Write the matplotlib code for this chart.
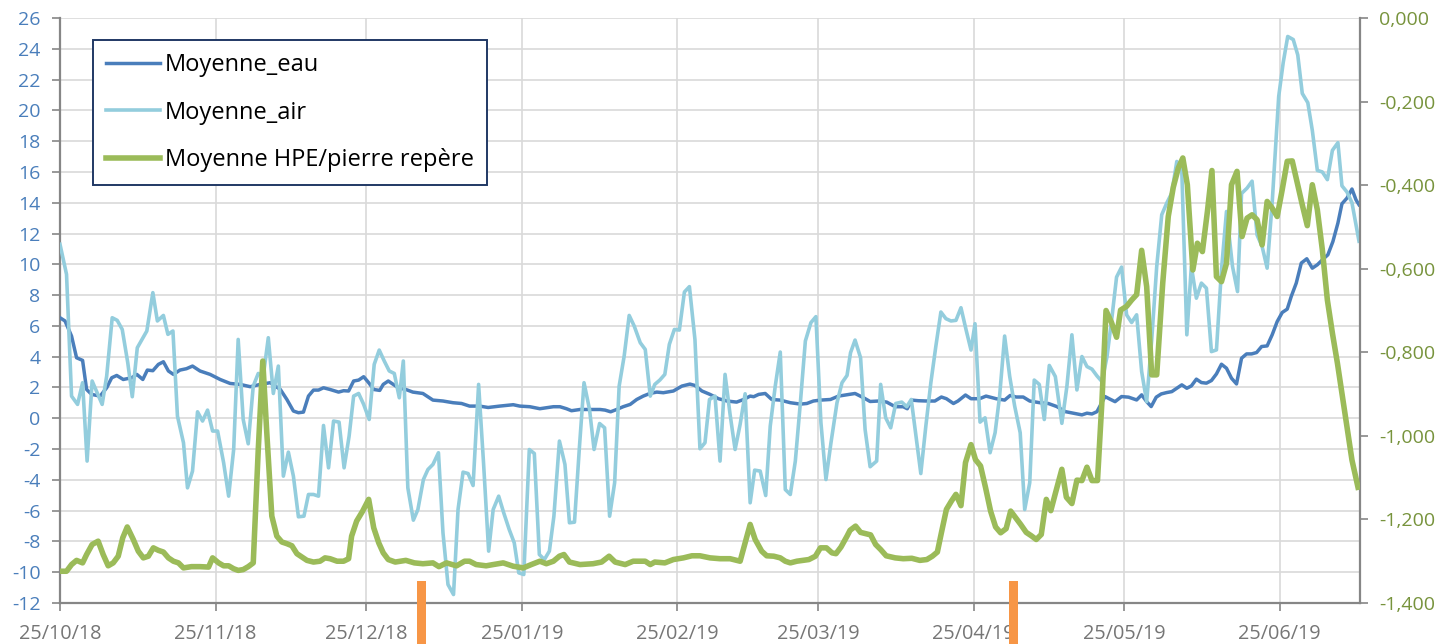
import matplotlib

matplotlib.use("Agg")
import matplotlib.dates as mdates
import matplotlib.pyplot as plt
import matplotlib.ticker as mticker
import numpy as np
import pandas as pd

plt.rcParams["font.family"] = ["Open Sans", "DejaVu Sans"]
plt.rcParams["axes.unicode_minus"] = False

START = pd.Timestamp("2018-10-25")
END = START + pd.Timedelta(days=259)

# ── Data (day offsets from 25/10/18) ─────────────────────────────────────────

eau_days = [
    0, 1, 2.3, 3.3, 4.5, 5.3, 6.3, 8, 9.3, 10.3,
    11.3, 12.6, 14.3, 15.3, 16.5, 17.4, 18.5, 19.6, 20.6, 21.6,
    22.6, 23.9, 25.2, 26.4, 27.9, 29.9, 31.9, 33.9, 35.9, 37.9,
    39.9, 41.9, 43.9, 45.2, 46.5, 47.5, 48.5, 49.5, 50.5, 51.5,
    52.5, 53.8, 55.5, 56.5, 57.5, 58.5, 59.5, 60.5, 61.5, 62.5,
    63.7, 64.4, 65.4, 66.4, 67.4,
    68.9, 70.3, 72.3, 74.3, 76.3, 78.3, 80.0, 81.6, 83.6, 85.3,
    87.6, 90.3, 91.6, 93.6, 95.6, 96.9, 98.3, 99.6, 100.9, 101.9,
    103.6, 105.6, 107.6, 108.6, 109.7, 110.9, 112.2, 113.6, 114.9, 116.2,
    117.5, 118.9, 120.2, 122.2, 123.9, 125.5, 126.5, 127.9, 129.5, 131.2,
    132.9, 134.8, 136.2, 137.5, 138.2, 139.2, 140.5, 141.8, 143.5, 145.5,
    147.5,
    148.8, 150.1, 151.5, 153.5, 155.1, 156.8, 158.4, 160.1, 161.4, 163.1,
    164.7, 166.4, 168.0, 168.8, 169.7, 171.0, 172.7, 174.3, 175.6, 176.6,
    178.0, 178.9, 180.4, 181.5, 183.2, 184.5, 186.5, 188.2, 189.3, 190.5,
    191.9, 193.2, 195.2, 196.9,
    198.6, 200.3, 201.9, 203.6, 204.6, 205.6, 206.6, 207.2, 208.2, 209.2,
    210.2, 211.5, 212.9, 214.5, 215.5, 216.5, 217.4, 218.4, 219.4, 220.5,
    221.5, 222.5, 223.5, 224.5, 225.4, 226.4, 227.4, 228.4, 229.4, 230.4,
    231.4, 232.4, 233.4, 234.4, 235.4, 236.4, 237.4, 238.4, 239.4, 240.5,
    241.5, 242.5, 243.5, 244.5, 245.3, 246.3, 247.3, 248.4, 249.5, 250.5,
    251.5, 252.6, 253.6, 254.6, 255.4, 256.4, 257.4, 258.2, 258.8,
]
eau_vals = [
    6.53, 6.32, 5.34, 3.93, 3.76, 1.87, 1.55, 1.44, 1.98, 2.63,
    2.78, 2.52, 2.63, 2.85, 2.52, 3.13, 3.09, 3.50, 3.67, 3.07,
    2.85, 3.13, 3.22, 3.39, 3.07, 2.85, 2.52, 2.26, 2.20, 2.05,
    2.20, 2.31, 1.87, 1.22, 0.47, 0.36, 0.40, 1.44, 1.83, 1.83,
    1.98, 1.87, 1.70, 1.79, 1.77, 2.42, 2.48, 2.70, 2.31, 1.87,
    1.81, 2.20, 2.42, 2.20, 1.98,
    1.87, 1.70, 1.61, 1.18, 1.12, 1.01, 0.96, 0.79, 0.79, 0.70,
    0.79, 0.88, 0.79, 0.75, 0.62, 0.68, 0.75, 0.75, 0.62, 0.49,
    0.57, 0.57, 0.57, 0.53, 0.42, 0.57, 0.75, 0.90, 1.22, 1.44,
    1.61, 1.70, 1.66, 1.77, 2.09, 2.22, 2.13, 1.77, 1.55, 1.27,
    1.12, 1.05, 1.22, 1.44, 1.40, 1.55, 1.61, 1.22, 1.18, 1.01,
    0.92,
    0.96, 1.12, 1.18, 1.22, 1.44, 1.53, 1.61, 1.33, 1.09, 1.12,
    1.05, 0.75, 0.75, 0.62, 1.18, 1.14, 1.12, 1.12, 1.38, 1.27,
    0.96, 1.12, 1.51, 1.27, 1.27, 1.44, 1.27, 1.18, 1.48, 1.38,
    1.38, 1.12, 1.01, 0.96,
    0.76, 0.43, 0.33, 0.22, 0.33, 0.28, 0.43, 0.80, 1.41, 1.24,
    1.08, 1.41, 1.37, 1.19, 1.52, 1.08, 0.76, 1.37, 1.58, 1.67,
    1.73, 1.95, 2.17, 1.95, 2.10, 2.54, 2.32, 2.28, 2.45, 2.88,
    3.51, 3.25, 2.60, 2.23, 3.90, 4.18, 4.18, 4.27, 4.66, 4.70,
    5.42, 6.28, 6.87, 7.09, 7.91, 8.78, 10.08, 10.36, 9.75, 9.97,
    10.29, 10.62, 11.48, 12.68, 13.93, 14.30, 14.89, 14.19, 13.87,
]

air_days = [
    0, 1.3, 2.3, 3.5, 4.5, 5.4, 6.4, 7.4, 8.4, 9.3,
    10.4, 11.4, 12.4, 13.5, 14.4, 15.4, 17.3, 18.5, 19.4, 20.6,
    21.5, 22.5, 23.4, 24.6, 25.4, 26.4, 27.4, 28.4, 29.4, 30.4,
    31.4, 32.6, 33.6, 34.6, 35.5, 36.5, 37.5, 38.5, 39.5, 40.5,
    41.5, 42.5, 43.5, 44.5, 45.5, 46.5, 47.5, 48.6, 49.5, 50.5,
    51.5, 52.5, 53.5, 54.5, 55.6, 56.6, 57.6, 58.5, 59.5, 60.5,
    61.6, 62.6, 63.6, 64.6, 65.6, 66.6, 67.6, 68.4, 69.3, 70.4,
    71.3, 72.4, 73.3, 74.3, 75.4, 76.3, 77.3, 78.4, 79.3, 80.3,
    81.3, 82.3, 83.4, 84.4, 85.4, 86.3, 87.4, 88.4, 89.5, 90.5,
    91.4, 92.4, 93.5, 94.5, 95.5, 96.5, 97.5, 98.4, 99.5, 100.6,
    101.5, 102.5, 103.5, 104.4, 105.5, 106.4, 107.5, 108.5, 109.5, 110.5,
    111.4, 112.4, 113.4, 114.4, 115.6, 116.6, 117.6, 118.5, 119.5, 120.5,
    121.4, 122.4, 123.4, 124.4, 125.4, 126.5, 127.5, 128.5, 129.4, 130.5,
    131.5, 132.5, 133.5, 134.5, 135.5, 136.5, 137.5, 138.4, 139.5, 140.6,
    141.5, 142.5, 143.5, 144.5, 145.5, 146.5, 147.5, 148.5, 149.6, 150.6,
    151.6, 152.6, 153.6, 154.8, 155.8, 156.8, 157.5, 158.4, 159.5, 160.4,
    161.4, 162.7, 163.5, 164.5, 165.5, 166.5, 167.7, 168.7, 169.6, 170.5,
    171.5, 172.5, 173.5, 174.5, 175.5, 176.5, 177.5, 178.5, 179.5, 180.5,
    181.5, 182.3, 183.3, 184.3, 185.3, 186.3, 187.2, 188.2, 189.2, 190.2,
    191.3, 192.2, 193.2, 194.1, 195.1, 196.1, 197.1, 198.3, 199.6, 200.6,
    201.6, 202.6, 203.6, 204.6, 205.6, 206.6, 207.6, 208.6, 209.6, 210.5,
    211.5, 212.5, 213.5, 214.5, 215.5, 216.5, 217.5, 218.5, 219.5, 220.5,
    221.5, 222.5, 223.5, 224.5, 225.4, 226.4, 227.4, 228.4, 229.4, 230.4,
    231.4, 232.4, 233.6, 234.6, 235.4, 236.5, 237.5, 238.5, 239.5, 240.5,
    241.5, 242.2, 242.8, 243.7, 244.6, 245.7, 246.6, 247.5, 248.6, 249.5,
    250.5, 251.5, 252.5, 253.5, 254.6, 255.4, 256.4, 257.4, 258.8,
]
air_vals = [
    11.3, 9.35, 1.44, 0.90, 2.31, -2.78, 2.42, 1.66, 0.90, 2.74,
    6.53, 6.36, 5.77, 3.61, 1.40, 4.58, 5.67, 8.16, 6.32, 6.68,
    5.45, 5.67, 0.14, -1.59, -4.52, -3.43, 0.42, -0.18, 0.53, -0.83,
    -0.83, -2.89, -5.06, -2.03, 5.12, -0.08, -1.66, 2.09, 2.91, 2.74,
    5.23, 1.61, 3.39, -3.76, -2.20, -3.76, -6.40, -6.36, -4.95, -4.95,
    -5.06, -0.47, -3.22, -0.18, -0.25, -3.22, -1.16, 1.44, 1.61, 0.90,
    -0.08, 3.50, 4.43, 3.72, 3.07, 2.91, 1.33, 3.72, -4.52, -6.62,
    -5.93, -3.98, -3.33, -3.00, -2.24, -7.44, -10.80, -11.45, -5.93, -3.50,
    -3.59, -4.37, 2.20, -3.00, -8.63, -5.93, -5.06, -6.14, -7.23, -8.09,
    -10.04, -10.15, -2.03, -2.29, -8.85, -9.18, -8.63, -6.36, -1.48, -3.00,
    -6.79, -6.75, -1.81, 2.31, 0.57, -2.03, -0.34, -0.62, -6.36, -4.19,
    2.09, 4.04, 6.68, 5.99, 4.91, 4.47, 1.44, 2.20, 2.48, 2.85,
    4.80, 5.77, 5.73, 8.20, 8.55, 5.12, -1.98, -1.59, 1.22, 1.44,
    -2.78, 2.85, 0.25, -2.03, -0.40, 1.59, -5.49, -3.37, -3.43, -5.02,
    -0.51, 2.09, 4.30, -4.63, -4.95, -2.78, 1.00, 5.02, 6.21, 6.60,
    -0.29, -3.98, -1.59, 1.01, 2.31, 2.78, 4.26, 5.08, 3.93, -0.73,
    -3.15, -2.78, 2.20, 0.03, -0.62, 0.96, 1.05, 0.75, 1.22, -1.05,
    -3.59, -0.51, 2.31, 4.69, 6.90, 6.47, 6.32, 6.36, 7.18, 5.77,
    4.43, 6.14, -0.25, 0.03, -2.24, -0.94, 1.44, 5.34, 2.74, 0.79,
    -0.94, -5.93, -4.19, 2.48, 2.20, -0.08, 3.43, 2.71, -0.33, 2.06,
    5.42, 1.84, 4.01, 3.36, 3.19, 2.75, 2.38, 4.01, 6.61, 9.17,
    9.82, 6.72, 6.22, 6.72, 3.03, 1.08, 5.09, 9.86, 13.22, 13.98,
    14.63, 16.68, 16.03, 5.42, 9.86, 7.80, 8.78, 8.45, 4.33, 4.44,
    9.64, 13.43, 9.86, 8.23, 14.6, 14.95, 15.4, 11.9, 11.16, 9.75,
    13.98, 17.66, 20.9, 23.1, 24.8, 24.6, 23.6, 21.1, 20.5, 18.7,
    16.1, 16.0, 15.5, 17.4, 17.9, 15.1, 14.7, 14.0, 11.5,
]

hpe_days = [
    0, 1.3, 2.3, 3.3, 4.5, 5.3, 6.4, 7.6, 8.6, 9.6,
    10.6, 11.6, 12.5, 13.4, 14.6, 15.6, 16.6, 17.6, 18.6, 19.6,
    20.6, 21.6, 22.6, 23.6, 24.6, 26.2, 27.9, 29.6, 30.4, 31.6,
    32.6, 33.6, 34.6, 35.5, 36.5, 37.5, 38.5, 39.5, 40.4, 41.2,
    42.2, 43.2, 44.2, 45.2, 46.2, 47.2, 48.2, 49.2, 50.5, 51.8,
    52.8, 53.8, 55.2, 56.5, 57.5, 58.1, 59.1, 60.3, 61.5, 62.5,
    63.5, 64.4, 65.4, 66.8, 68.9, 70.6, 72.3, 74.3, 75.5, 77.0,
    79.0, 80.6, 81.6, 82.9, 84.9, 86.3, 88.3, 90.3, 92.3, 93.9,
    95.6, 96.9, 98.3, 99.5, 100.4, 101.5, 103.6, 106.2, 107.9, 109.4,
    110.6, 112.6, 114.2, 116.6, 117.6, 118.5, 120.5, 122.2, 124.2, 125.9,
    127.5, 129.5, 131.5, 133.5, 135.5, 136.5, 137.5, 138.5, 139.8, 140.8,
    142.2, 143.5, 144.5, 145.5, 146.8, 149.2, 150.5, 151.5, 152.7, 153.8,
    154.6, 155.6, 156.8, 157.4, 158.5, 159.5, 160.5, 161.5, 162.5, 163.5,
    164.6, 166.4, 168.0, 169.7, 171.3, 172.7, 173.8, 174.8, 175.6, 176.6,
    177.6, 178.5, 179.5, 180.4, 181.5, 182.4, 183.4, 184.4, 185.4, 186.4,
    187.4, 188.5, 189.4, 190.4, 191.4, 192.5, 193.5, 194.5, 195.5, 196.5,
    197.4, 198.3, 199.6, 200.5, 201.6, 202.6, 203.6, 204.6, 205.6, 206.7,
    207.6, 208.4, 209.5, 210.5, 211.3, 212.5, 213.5, 214.5, 215.5, 216.5,
    217.5, 218.5, 219.7, 220.8, 221.8, 222.8, 223.7, 224.6, 225.7, 226.6,
    227.6, 228.6, 229.5, 230.4, 231.4, 232.4, 233.4, 234.5, 235.5, 236.5,
    237.5, 238.5, 239.5, 240.5, 241.5, 242.5, 243.5, 244.5, 245.5, 246.5,
    247.5, 248.5, 249.5, 250.5, 251.5, 252.5, 253.5, 254.5, 255.4, 256.4,
    257.4, 258.6,
]
hpe_vals = [
    -1.324, -1.324, -1.308, -1.298, -1.304, -1.284, -1.260, -1.252, -1.284, -1.311,
    -1.304, -1.288, -1.244, -1.218, -1.248, -1.276, -1.292, -1.288, -1.268, -1.274,
    -1.278, -1.292, -1.300, -1.304, -1.316, -1.313, -1.313, -1.314, -1.292, -1.304,
    -1.311, -1.311, -1.318, -1.322, -1.320, -1.313, -1.304, -1.033, -0.821, -0.993,
    -1.192, -1.240, -1.254, -1.258, -1.263, -1.282, -1.290, -1.298, -1.302, -1.300,
    -1.292, -1.294, -1.300, -1.300, -1.294, -1.240, -1.204, -1.180, -1.152, -1.220,
    -1.256, -1.280, -1.296, -1.302, -1.298, -1.304, -1.306, -1.304, -1.313, -1.304,
    -1.311, -1.300, -1.300, -1.308, -1.311, -1.308, -1.304, -1.312, -1.316, -1.308,
    -1.300, -1.306, -1.300, -1.288, -1.284, -1.302, -1.308, -1.306, -1.302, -1.288,
    -1.302, -1.308, -1.300, -1.300, -1.308, -1.302, -1.304, -1.296, -1.292, -1.287,
    -1.287, -1.292, -1.294, -1.294, -1.300, -1.256, -1.212, -1.248, -1.276, -1.287,
    -1.288, -1.292, -1.300, -1.304, -1.300, -1.296, -1.288, -1.268, -1.268, -1.280,
    -1.282, -1.266, -1.240, -1.226, -1.216, -1.231, -1.234, -1.237, -1.260, -1.272,
    -1.287, -1.292, -1.294, -1.293, -1.298, -1.296, -1.288, -1.278, -1.232, -1.176,
    -1.156, -1.140, -1.167, -1.064, -1.021, -1.057, -1.072, -1.124, -1.180, -1.218,
    -1.232, -1.222, -1.180, -1.196, -1.212, -1.231, -1.239, -1.248, -1.236, -1.152,
    -1.179, -1.138, -1.080, -1.147, -1.162, -1.106, -1.107, -1.075, -1.107, -1.107,
    -0.914, -0.700, -0.729, -0.764, -0.699, -0.690, -0.675, -0.662, -0.556, -0.643,
    -0.854, -0.854, -0.634, -0.475, -0.405, -0.359, -0.335, -0.399, -0.603, -0.539,
    -0.559, -0.463, -0.365, -0.619, -0.631, -0.587, -0.399, -0.367, -0.523, -0.479,
    -0.471, -0.483, -0.543, -0.439, -0.455, -0.475, -0.411, -0.343, -0.342, -0.395,
    -0.447, -0.497, -0.399, -0.459, -0.555, -0.675, -0.754, -0.826, -0.898, -0.978,
    -1.058, -1.123,
]

# orange markers (events), in left-axis units
event_dates = ["2019-01-05", "2019-05-03"]
event_top = -10.6
event_bottom = -14.7

LABEL_EAU = "Moyenne_eau"
LABEL_AIR = "Moyenne_air"
LABEL_HPE = "Moyenne HPE/pierre repère"


def to_dates(days):
    return START + pd.to_timedelta(np.asarray(days, dtype=float), unit="D")


def fr_fmt(v, _pos):
    if abs(v) < 1e-9:
        return "0,000"
    return f"{v:.3f}".replace(".", ",")


W, H = 1439, 644
fig = plt.figure(figsize=(W / 100, H / 100), dpi=100)
ax = fig.add_axes([60 / W, 41 / H, 1300 / W, 585 / H])

GRID = "#D9D9D9"
AXIS = "#868686"
C_EAU, C_AIR, C_HPE = "#4A7EBB", "#93CDDD", "#9BBB59"

ax.plot(to_dates(eau_days), eau_vals, color=C_EAU, lw=2.5, zorder=3,
        solid_joinstyle="round")
ax.plot(to_dates(air_days), air_vals, color=C_AIR, lw=2.6, zorder=4,
        solid_joinstyle="round")

ax.bar(pd.to_datetime(event_dates), event_top - event_bottom, bottom=event_bottom,
       width=1.8, color="#F79646", clip_on=False, zorder=6)

ax.set_xlim(START, END)
ax.set_ylim(-12, 26)
ax.set_yticks(range(-12, 27, 2))
ax.xaxis.set_major_locator(mdates.MonthLocator(bymonthday=25))
ax.xaxis.set_major_formatter(mdates.DateFormatter("%d/%m/%y"))
ax.grid(True, color=GRID, lw=1.2)
ax.set_axisbelow(True)

for side in ("top", "right"):
    ax.spines[side].set_visible(False)
for side in ("left", "bottom"):
    ax.spines[side].set_color(AXIS)
    ax.spines[side].set_linewidth(1.6)

ax.tick_params(axis="y", length=6, width=1.2, color=AXIS, labelcolor=C_EAU,
               labelsize=14, pad=8)
ax.tick_params(axis="x", length=6, width=1.2, color=AXIS, labelcolor="#767676",
               labelsize=14.3, pad=9)

ax2 = ax.twinx()
ax2.plot(to_dates(hpe_days), hpe_vals, color=C_HPE, lw=4.0, zorder=5,
         solid_joinstyle="round")
ax2.set_ylim(-1.4, 0)
ax2.set_yticks(np.round(np.linspace(-1.4, 0, 8), 1))
ax2.yaxis.set_major_formatter(mticker.FuncFormatter(fr_fmt))
for side in ("top", "bottom", "left"):
    ax2.spines[side].set_visible(False)
ax2.spines["right"].set_color(AXIS)
ax2.spines["right"].set_linewidth(1.6)
ax2.tick_params(axis="y", length=6, width=1.2, color=AXIS, labelcolor="#77933C",
                labelsize=14, pad=8)

handles = [
    plt.Line2D([], [], color=C_EAU, lw=2.5),
    plt.Line2D([], [], color=C_AIR, lw=2.6),
    plt.Line2D([], [], color=C_HPE, lw=4.0),
]
leg = ax2.legend(handles, [LABEL_EAU, LABEL_AIR, LABEL_HPE],
                 loc="upper left", bbox_to_anchor=(33 / 1300, 1 - 22 / 585),
                 borderaxespad=0, fancybox=False, framealpha=1,
                 edgecolor="#203864", fontsize=17, handlelength=2.3,
                 handletextpad=0.2, labelspacing=1.0, borderpad=0.55)
leg.get_frame().set_linewidth(1.4)
leg.set_zorder(10)

fig.savefig("out.png", dpi=100)
